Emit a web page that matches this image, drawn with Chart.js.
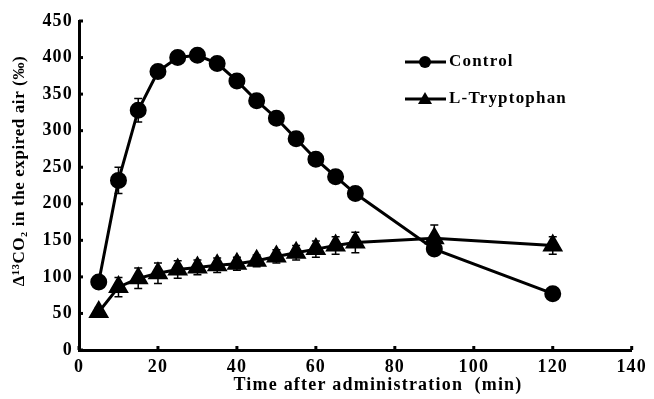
<!DOCTYPE html>
<html>
<head>
<meta charset="utf-8">
<script src="https://cdn.jsdelivr.net/npm/chart.js@4.4.1/dist/chart.umd.min.js"></script>
<style>
  html, body { margin: 0; padding: 0; background: #fff; }
  #wrap { width: 654px; height: 399px; }
</style>
</head>
<body>
<div id="wrap"><canvas id="chart" width="654" height="399"></canvas></div>
<script>
/* --------------- Data --------------------- */
const times = [5, 10, 15, 20, 25, 30, 35, 40, 45, 50, 55, 60, 65, 70, 90, 120];
const control = [93, 232, 328, 381, 400, 403, 392, 368, 341, 317, 289, 261, 237, 214, 138, 77];
const controlErr = [3, 18, 16, 5, 4, 4, 4, 4, 4, 4, 4, 4, 4, 4, 5, 4];
const tryptophan = [52, 86, 98, 105, 110, 113, 116, 118, 122, 128, 133, 138, 143, 147, 153, 143];
const tryptophanErr = [6, 13, 14, 14, 12, 10, 10, 9, 8, 9, 10, 11, 12, 14, 18, 12];
const xTicks = [0, 20, 40, 60, 80, 100, 120, 140];
const xTitle = "Time after administration  (min)";
const yTitle = "Δ¹³CO₂ in the expired air (‰)";

const family = "'Liberation Serif', 'Times New Roman', serif";
const tickFont = { family, size: 18, weight: "bold" };

/* --------------- Letter spacing (reset whenever the canvas is resized) --------------------- */
const spacing = {
  id: "spacing",
  beforeUpdate(chart) { chart.ctx.letterSpacing = "1.2px"; },
  beforeDraw(chart) { chart.ctx.letterSpacing = "1.2px"; },
};

/* --------------- Error bars, drawn under the markers --------------------- */
const errorBars = {
  id: "errorBars",
  beforeDatasetsDraw(chart) {
    const { ctx, scales: { x, y } } = chart;
    ctx.save();
    ctx.strokeStyle = "#000";
    ctx.lineWidth = 1.5;
    chart.data.datasets.forEach((ds) => {
      ds.data.forEach((p, i) => {
        const px = x.getPixelForValue(p.x);
        const top = y.getPixelForValue(p.y + ds.errors[i]);
        const bot = y.getPixelForValue(p.y - ds.errors[i]);
        ctx.beginPath();
        ctx.moveTo(px, top); ctx.lineTo(px, bot);
        ctx.moveTo(px - 4, top); ctx.lineTo(px + 4, top);
        ctx.moveTo(px - 4, bot); ctx.lineTo(px + 4, bot);
        ctx.stroke();
      });
    });
    ctx.restore();
  },
};

/* --------------- Inward tick marks, titles, legend --------------------- */
const extras = {
  id: "extras",
  afterDraw(chart) {
    const { ctx, chartArea: a, scales: { x, y } } = chart;
    ctx.save();
    ctx.strokeStyle = "#000";
    ctx.fillStyle = "#000";
    ctx.lineWidth = 3;
    x.ticks.forEach((t) => {
      const px = x.getPixelForValue(t.value);
      ctx.beginPath(); ctx.moveTo(px, a.bottom); ctx.lineTo(px, a.bottom - 4); ctx.stroke();
    });
    y.ticks.forEach((t) => {
      const py = y.getPixelForValue(t.value);
      ctx.beginPath(); ctx.moveTo(a.left, py); ctx.lineTo(a.left + 4, py); ctx.stroke();
    });

    // axis titles
    ctx.textAlign = "center";
    ctx.textBaseline = "middle";
    ctx.font = `bold 18px ${family}`;
    ctx.fillText(xTitle, a.left + 299, 385);
    ctx.save();
    ctx.translate(20, a.top + 150);
    ctx.rotate(-Math.PI / 2);
    ctx.letterSpacing = "0.6px";
    ctx.font = `bold 17px ${family}`;
    ctx.fillText(yTitle, 0, 0);
    ctx.restore();

    // legend
    const lx = 405, rows = [62, 99];
    ctx.textAlign = "left";
    ctx.font = `bold 17px ${family}`;
    chart.data.datasets.forEach((ds, i) => {
      const ly = rows[i];
      ctx.lineWidth = 3;
      ctx.beginPath(); ctx.moveTo(lx, ly); ctx.lineTo(lx + 41, ly); ctx.stroke();
      ctx.beginPath();
      if (ds.pointStyle === "circle") {
        ctx.arc(lx + 20, ly, 6, 0, Math.PI * 2);
      } else {
        ctx.moveTo(lx + 20, ly - 7);
        ctx.lineTo(lx + 27, ly + 5);
        ctx.lineTo(lx + 13, ly + 5);
        ctx.closePath();
      }
      ctx.fill();
      ctx.fillText(ds.label, lx + 44, ly);
    });
    ctx.restore();
  },
};

const toPoints = (vals) => vals.map((v, i) => ({ x: times[i], y: v }));

new Chart(document.getElementById("chart"), {
  type: "line",
  plugins: [spacing, errorBars, extras],
  data: {
    datasets: [
      {
        label: "Control",
        data: toPoints(control),
        errors: controlErr,
        borderColor: "#000",
        backgroundColor: "#000",
        borderWidth: 3,
        pointStyle: "circle",
        pointRadius: 7,
        tension: 0,
      },
      {
        label: "L-Tryptophan",
        data: toPoints(tryptophan),
        errors: tryptophanErr,
        borderColor: "#000",
        backgroundColor: "#000",
        borderWidth: 3,
        pointStyle: "triangle",
        pointRadius: 9,
        tension: 0,
      },
    ],
  },
  options: {
    responsive: false,
    animation: false,
    layout: { padding: { left: 0, right: 16, top: 21, bottom: 0 } },
    plugins: { legend: { display: false }, tooltip: { enabled: false } },
    scales: {
      x: {
        type: "linear",
        min: 0,
        max: 140,
        afterBuildTicks: (s) => { s.ticks = xTicks.map((v) => ({ value: v })); },
        grid: { display: false, drawTicks: false },
        border: { display: true, color: "#000", width: 3 },
        ticks: { color: "#000", font: tickFont, padding: 7 },
        afterFit: (s) => { s.height = 49; },
      },
      y: {
        min: 0,
        max: 450,
        grid: { display: false, drawTicks: false },
        border: { display: true, color: "#000", width: 3 },
        ticks: { stepSize: 50, color: "#000", font: tickFont, padding: 6 },
        afterFit: (s) => { s.width = 79; },
      },
    },
  },
});
</script>
</body>
</html>
